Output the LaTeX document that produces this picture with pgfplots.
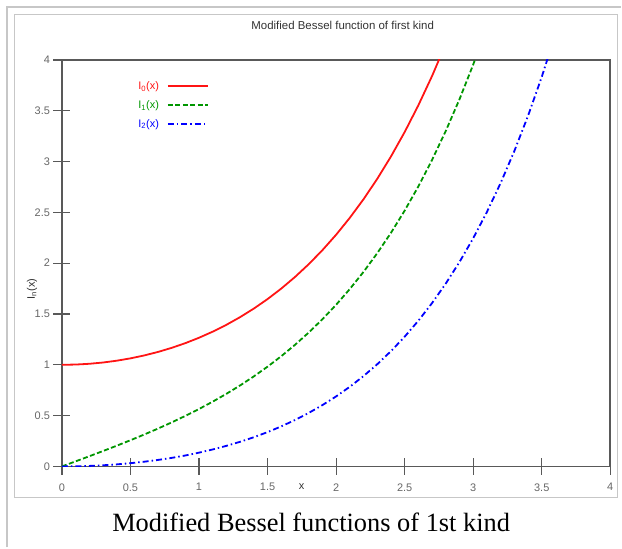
\documentclass[border=0pt]{standalone}
\usepackage{fontspec}
\setmainfont{Liberation Sans}
\newfontfamily\capfont{Liberation Serif}
\usepackage{pgfplots}
\pgfplotsset{compat=1.18}
\definecolor{gpgreen}{RGB}{0,150,0}
\definecolor{gpred}{RGB}{255,20,20}
\definecolor{gpblue}{RGB}{0,0,255}
\begin{document}
\begin{tikzpicture}[x=1bp,y=1bp]
\path (0,0) rectangle (622,548);
\draw[black!22, line width=1.5bp] (7,0) -- (7,541) -- (622,541);
\draw[black!22, line width=1bp] (15,50) rectangle (618,533);
\node[font=\capfont\fontsize{26.5}{30}\selectfont] at (311.5,25) {Modified Bessel functions of 1st kind};
\begin{axis}[at={(62bp,81bp)}, anchor=south west, scale only axis,
  width=549bp, height=407bp,
  xmin=0, xmax=4, ymin=0, ymax=4,
  xtick={0,0.5,...,4}, ytick={0,0.5,...,4},
  xtick pos=bottom, ytick pos=left,
  tick align=center, major tick length=17bp,
  axis line style={black!65, line width=1.6bp},
  tick style={black!65, line width=1.2bp},
  ticklabel style={font=\fontsize{11}{12}\selectfont, text=black!60},
  xticklabel style={yshift=-5bp},
  /pgf/number format/assume math mode=true,
  xlabel={x}, ylabel={I\textsubscript{n}(x)},
  label style={font=\fontsize{11}{12}\selectfont, text=black!80},
  xlabel style={at={(axis description cs:0.437,0)}, anchor=center, yshift=-20bp},
  ylabel style={at={(axis description cs:-0.0546,0.437)}, anchor=center},
  title={Modified Bessel function of first kind},
  title style={at={(axis description cs:0.512,1)}, anchor=center, yshift=29bp, font=\fontsize{11.5}{12}\selectfont, text=black!80},
  legend style={draw=none, fill=none, at={(0.13,0.957)}, anchor=north west, font=\fontsize{11}{12}\selectfont, row sep=5.5bp},
  legend cell align=left, legend plot pos=right,
  legend image code/.code={\path (0bp,0bp); \draw[#1] (6bp,0bp) -- (46bp,0bp);},
  every axis plot/.append style={line width=1.8bp},
]
\addplot[gpred, solid] coordinates {
(0,1) (0.1,1.0025) (0.2,1.0100) (0.3,1.0226) (0.4,1.0404) (0.5,1.0635)
(0.6,1.0920) (0.7,1.1263) (0.8,1.1665) (0.9,1.2130) (1.0,1.2661)
(1.1,1.3262) (1.2,1.3937) (1.3,1.4693) (1.4,1.5534) (1.5,1.6467)
(1.6,1.7500) (1.7,1.8640) (1.8,1.9896) (1.9,2.1277) (2.0,2.2796)
(2.1,2.4463) (2.2,2.6291) (2.3,2.8296) (2.4,3.0493) (2.5,3.2898)
(2.6,3.5533) (2.7,3.8417) (2.8,4.1573)};
\addlegendentry{\textcolor{gpred}{I\textsubscript{0}(x)}}
\addplot[gpgreen, dash pattern=on 5bp off 2.5bp] coordinates {
(0,0) (0.1,0.0501) (0.2,0.1005) (0.3,0.1517) (0.4,0.2040) (0.5,0.2579)
(0.6,0.3137) (0.7,0.3719) (0.8,0.4329) (0.9,0.4971) (1.0,0.5652)
(1.1,0.6375) (1.2,0.7147) (1.3,0.7973) (1.4,0.8861) (1.5,0.9817)
(1.6,1.0848) (1.7,1.1963) (1.8,1.3172) (1.9,1.4482) (2.0,1.5906)
(2.1,1.7455) (2.2,1.9141) (2.3,2.0978) (2.4,2.2981) (2.5,2.5167)
(2.6,2.7554) (2.7,3.0161) (2.8,3.3011) (2.9,3.6126) (3.0,3.9534)
(3.1,4.3262)};
\addlegendentry{\textcolor{gpgreen}{I\textsubscript{1}(x)}}
\addplot[gpblue, dash pattern=on 6bp off 3bp on 1.5bp off 3bp] coordinates {
(0,0) (0.1,0.00125) (0.2,0.00502) (0.3,0.01131) (0.4,0.02013) (0.5,0.03191)
(0.6,0.04636) (0.7,0.06367) (0.8,0.08405) (0.9,0.1075) (1.0,0.1357)
(1.1,0.1671) (1.2,0.2026) (1.3,0.2426) (1.4,0.2875) (1.5,0.3378)
(1.6,0.3940) (1.7,0.4566) (1.8,0.5262) (1.9,0.6034) (2.0,0.6889)
(2.1,0.7839) (2.2,0.8890) (2.3,1.0054) (2.4,1.1342) (2.5,1.2765)
(2.6,1.4337) (2.7,1.6075) (2.8,1.7994) (2.9,2.0113) (3.0,2.2452)
(3.1,2.5034) (3.2,2.7883) (3.3,3.1027) (3.4,3.4495) (3.5,3.8320)
(3.6,4.2540)};
\addlegendentry{\textcolor{gpblue}{I\textsubscript{2}(x)}}
\end{axis}
\end{tikzpicture}
\end{document}
